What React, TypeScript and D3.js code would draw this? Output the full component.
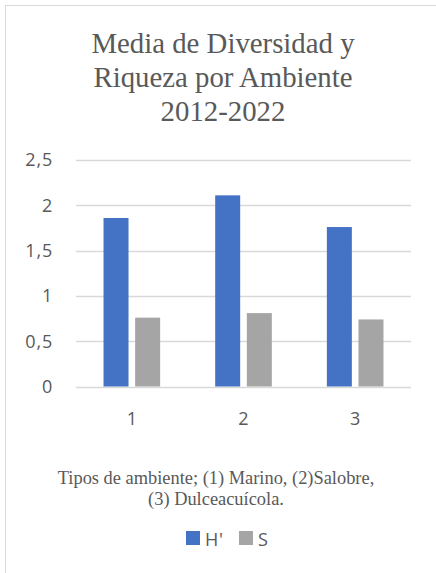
import { useEffect, useRef } from "react";
import * as d3 from "d3";

const categories = ["1", "2", "3"];
const seriesNames = ["H'", "S"];
const hValues = [1.86, 2.11, 1.76];
const sValues = [0.76, 0.81, 0.74];
const yTicks = [0, 0.5, 1, 1.5, 2, 2.5];
const titleLines = ["Media de Diversidad y", "Riqueza por Ambiente", "2012-2022"];
const captionLines = ["Tipos de ambiente; (1) Marino, (2)Salobre,", "(3) Dulceacuícola."];

function App() {
  const canvas = useRef<SVGSVGElement>(null);

  const drawChart = () => {
    const width = 436;
    const height = 573;
    const colors = ["#4472C4", "#A5A5A5"];
    const textColor = "#595959";
    const sans = "'Open Sans', sans-serif";
    const serif = "'Liberation Serif', 'Times New Roman', serif";

    const svg = d3.select(canvas.current).attr("width", width).attr("height", height);
    svg.selectAll("*").remove();

    svg.append("rect").attr("width", width).attr("height", height).attr("fill", "#fff");
    // marco del grafico
    svg.append("line").attr("x1", 5.5).attr("x2", 5.5).attr("y1", 5).attr("y2", height).attr("stroke", "#D9D9D9");
    svg.append("line").attr("x1", 5).attr("x2", width).attr("y1", 5.5).attr("y2", 5.5).attr("stroke", "#D9D9D9");

    // titulo
    svg.append("text")
      .attr("text-anchor", "middle")
      .attr("fill", textColor)
      .style("font-family", serif)
      .style("font-size", "28.8px")
      .selectAll("tspan")
      .data(titleLines)
      .join("tspan")
      .attr("x", 223)
      .attr("y", (d, i) => 53 + i * 34)
      .text(d => d);

    const x0 = d3.scaleBand().domain(categories).range([76, 411]);
    const x1 = d3.scaleBand().domain(seriesNames).range([0, x0.bandwidth()]).paddingInner(0.21).paddingOuter(0.87);
    const y = d3.scaleLinear().domain([0, 2.5]).range([386.5, 160]);

    const grid = svg.append("g");
    grid.selectAll("line")
      .data(yTicks)
      .join("line")
      .attr("x1", 76)
      .attr("x2", 411)
      .attr("y1", d => Math.round(y(d)) + 0.5)
      .attr("y2", d => Math.round(y(d)) + 0.5)
      .attr("stroke", "#D9D9D9")
      .attr("stroke-width", 1.3);

    svg.append("g")
      .selectAll("text")
      .data(yTicks)
      .join("text")
      .attr("x", 53)
      .attr("y", d => y(d))
      .attr("dy", "0.35em")
      .attr("text-anchor", "end")
      .attr("fill", textColor)
      .style("font-family", sans)
      .style("font-size", "18px")
      .style("letter-spacing", "0.8px")
      .text(d => String(d).replace(".", ","));

    const rows = categories.map((c, i) => ({ cat: c, vals: [hValues[i], sValues[i]] }));

    const groups = svg.append("g")
      .selectAll("g")
      .data(rows)
      .join("g")
      .attr("transform", d => `translate(${x0(d.cat)},0)`);

    groups.selectAll("rect")
      .data(d => d.vals.map((v, j) => ({ name: seriesNames[j], v, j })))
      .join("rect")
      .attr("x", d => x1(d.name)!)
      .attr("y", d => y(d.v))
      .attr("width", x1.bandwidth())
      .attr("height", d => y(0) - y(d.v))
      .attr("fill", d => colors[d.j]);

    svg.append("g")
      .selectAll("text")
      .data(categories)
      .join("text")
      .attr("x", d => x0(d)! + x0.bandwidth() / 2)
      .attr("y", 425)
      .attr("text-anchor", "middle")
      .attr("fill", textColor)
      .style("font-family", sans)
      .style("font-size", "18px")
      .text(d => d);

    // titulo del eje
    svg.append("text")
      .attr("text-anchor", "middle")
      .attr("fill", textColor)
      .style("font-family", serif)
      .style("font-size", "18.4px")
      .selectAll("tspan")
      .data(captionLines)
      .join("tspan")
      .attr("x", 216)
      .attr("y", (d, i) => 484 + i * 21)
      .text(d => d);

    // leyenda
    const legendX = [186, 239];
    const legend = svg.append("g")
      .selectAll("g")
      .data(seriesNames)
      .join("g")
      .attr("transform", (d, i) => `translate(${legendX[i]},531)`);
    legend.append("rect")
      .attr("width", 14)
      .attr("height", 14)
      .attr("fill", (d, i) => colors[i]);
    legend.append("text")
      .attr("x", 19)
      .attr("y", 14.5)
      .attr("fill", textColor)
      .style("font-family", sans)
      .style("font-size", "18px")
      .style("letter-spacing", "0.8px")
      .text(d => d);
  };

  useEffect(() => {
    drawChart();
  }, []);

  return (
    <div style={{ position: "absolute", left: 0, top: 0 }}>
      <svg ref={canvas} style={{ display: "block" }} />
    </div>
  );
}

export default App;
